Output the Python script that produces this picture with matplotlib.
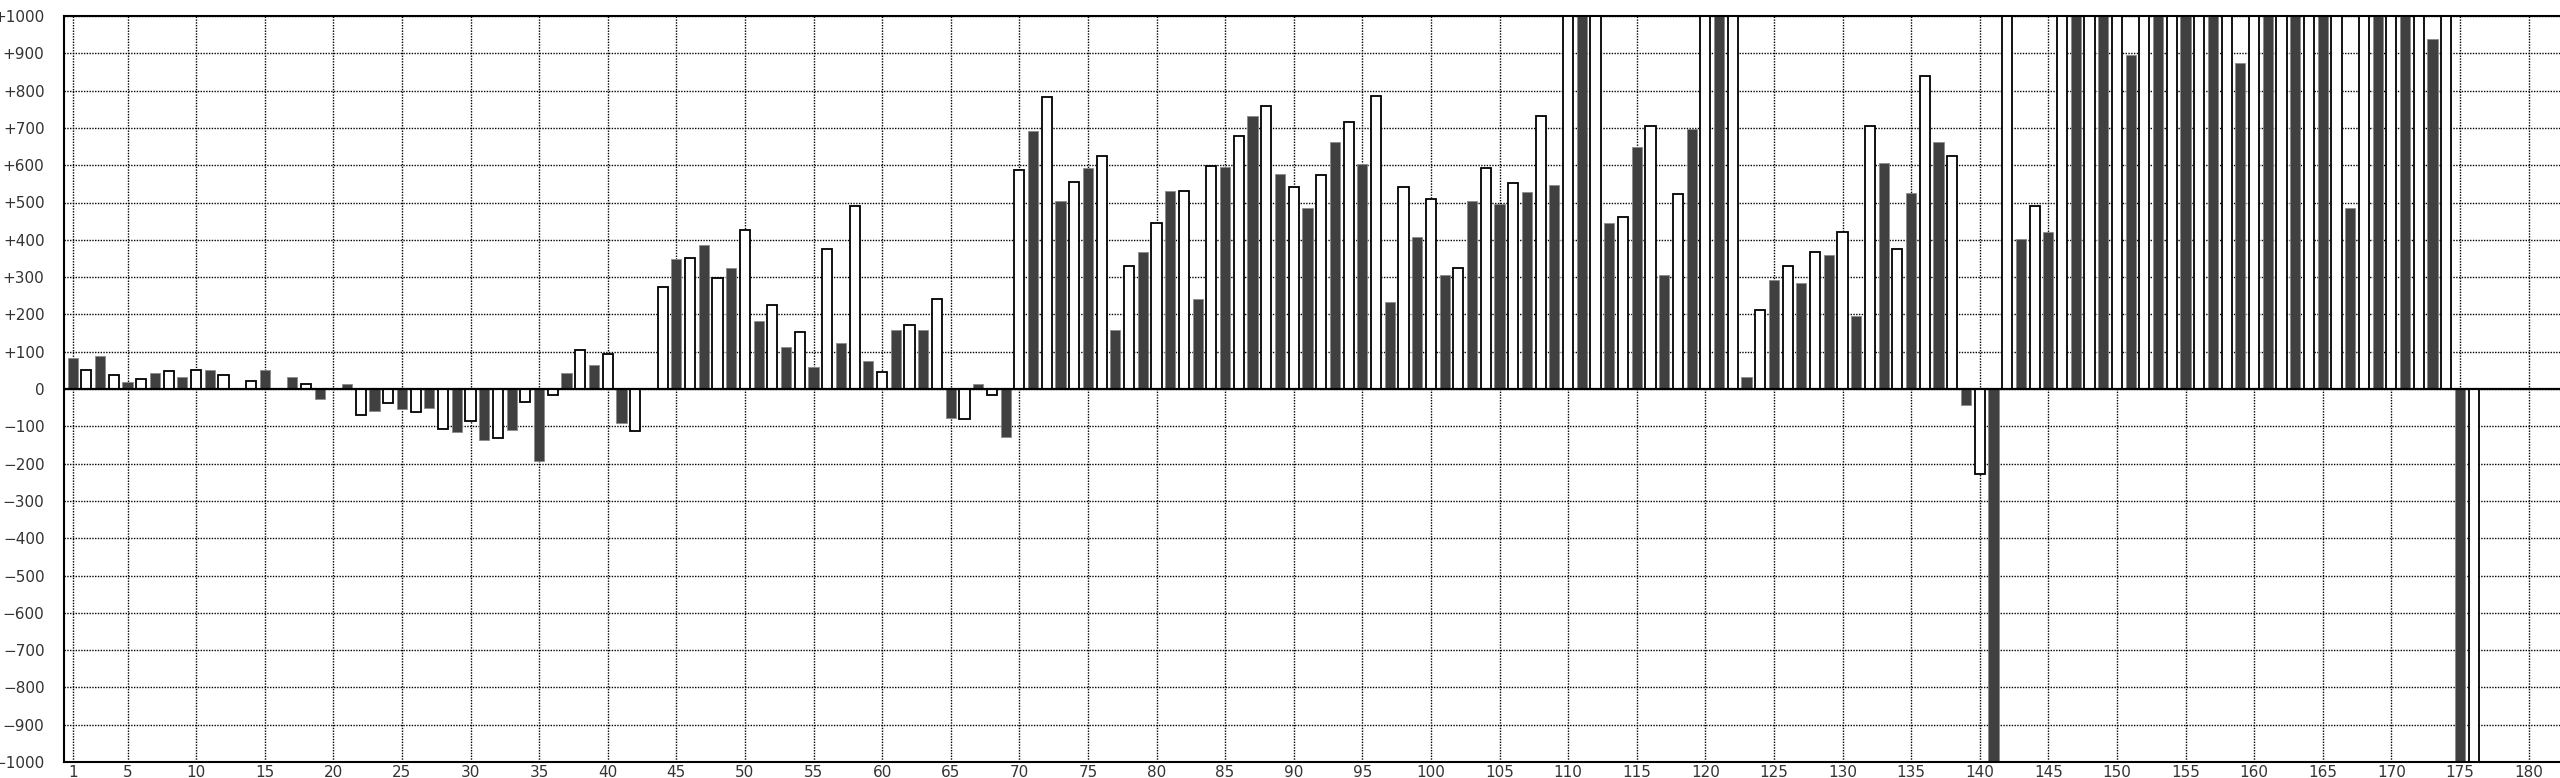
import matplotlib
matplotlib.use("Agg")
import matplotlib.pyplot as plt
from matplotlib.ticker import FixedLocator, FuncFormatter

# ---- data -------------------------------------------------------------
days = list(range(1, 177))
values = [
    84, 50, 88, 37, 20, 27, 42, 47, 33, 51,
    51, 37, 0, 22, 51, 0, 32, 13, -26, 0,
    14, -71, -59, -38, -53, -62, -50, -107, -114, -86,
    -137, -131, -109, -34, -194, -15, 42, 105, 65, 93,
    -91, -113, 0, 273, 349, 351, 385, 297, 325, 425,
    181, 226, 112, 152, 60, 375, 122, 490, 75, 46,
    158, 171, 158, 240, -77, -80, 14, -16, -128, 587,
    691, 782, 505, 556, 593, 625, 158, 329, 367, 444,
    532, 532, 241, 599, 594, 677, 732, 759, 576, 541,
    486, 575, 662, 717, 603, 786, 232, 541, 408, 509,
    306, 324, 505, 592, 497, 551, 529, 732, 547, 1200,
    1200, 1200, 446, 462, 650, 704, 306, 523, 696, 1200,
    1200, 1200, 32, 212, 293, 329, 284, 366, 358, 422,
    197, 704, 607, 375, 525, 838, 663, 625, -44, -228,
    -1200, 1200, 401, 490, 422, 1200, 1200, 1200, 1200, 1200,
    895, 1200, 1200, 1200, 1200, 1200, 1200, 1200, 873, 1200,
    1200, 1200, 1200, 1200, 1200, 1200, 485, 1200, 1200, 1200,
    1200, 1200, 937, 1200, -1200, -1200,
]
odd_days = [d for d in days if d % 2 == 1]
odd_vals = [v for d, v in zip(days, values) if d % 2 == 1]
even_days = [d for d in days if d % 2 == 0]
even_vals = [v for d, v in zip(days, values) if d % 2 == 0]

x_ticks = [1] + list(range(5, 181, 5))
y_ticks = list(range(-1000, 1001, 100))

# ---- figure -----------------------------------------------------------
W, H = 2560, 778
fig = plt.figure(figsize=(W / 100, H / 100), dpi=100)
fig.patch.set_facecolor("white")

x_left, x_right = 0.37, 183.0
px_per_unit = 13.72
left_px, top_px, bot_px = 64, 16, 762
ax = fig.add_axes([left_px / W, (H - bot_px) / H,
                   (x_right - x_left) * px_per_unit / W, (bot_px - top_px) / H])

bar_w = 0.74
ax.bar(odd_days, odd_vals, width=bar_w, color="#404040",
       edgecolor="#8a8a8a", linewidth=0.6, zorder=2)
ax.bar(even_days, even_vals, width=bar_w, color="white",
       edgecolor="black", linewidth=1.3, zorder=2)

ax.axhline(0, color="black", linewidth=1.6, zorder=3)

ax.set_xlim(x_left, x_right)
ax.set_ylim(-1000, 1000)

ax.xaxis.set_major_locator(FixedLocator(x_ticks))
ax.yaxis.set_major_locator(FixedLocator(y_ticks))


def yfmt(v, pos):
    v = int(round(v))
    if v > 0:
        return f"+{v}"
    if v < 0:
        return f"\u2212{abs(v)}"
    return "0"


ax.yaxis.set_major_formatter(FuncFormatter(yfmt))

ax.grid(True, which="major", color="black", linestyle=(0, (1, 1)),
        linewidth=1.0, zorder=1)
ax.set_axisbelow(True)

ax.tick_params(axis="both", length=0, labelsize=11, colors="#333333")
ax.tick_params(axis="y", pad=14)
ax.tick_params(axis="x", pad=2)

for sp in ax.spines.values():
    sp.set_linewidth(1.5)
    sp.set_color("black")

fig.savefig("out.png", dpi=100, facecolor="white")
